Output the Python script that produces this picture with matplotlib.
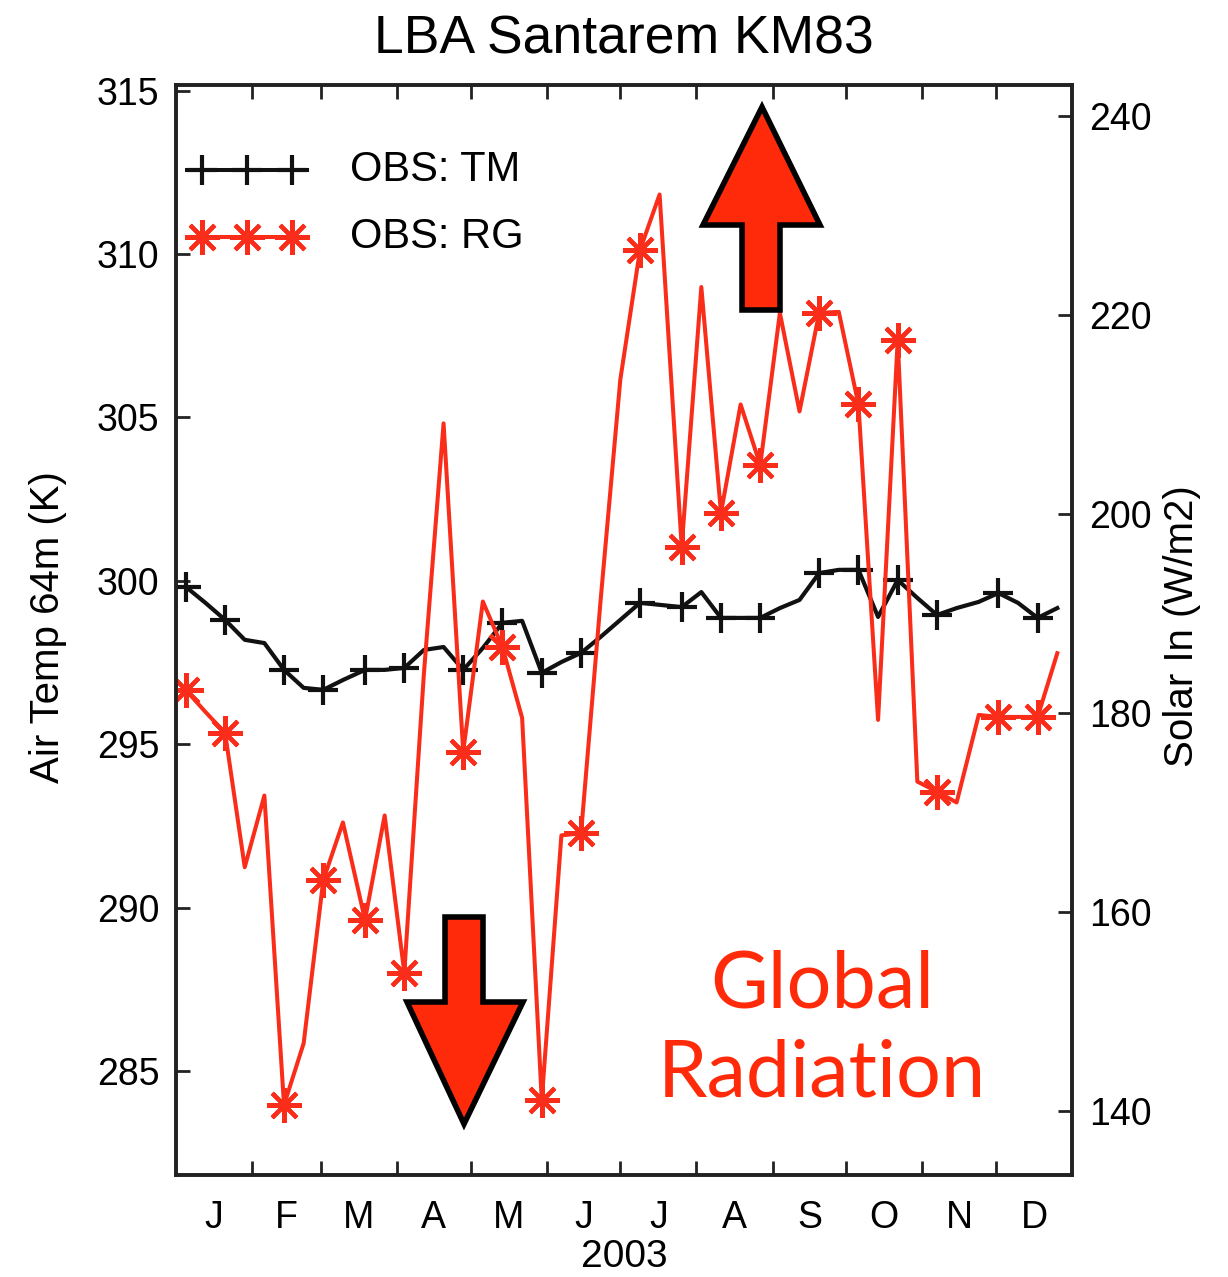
import numpy as np
import matplotlib
matplotlib.use('Agg')
import matplotlib.pyplot as plt
from matplotlib.patches import Polygon

plt.rcParams['font.family'] = ['Liberation Sans', 'DejaVu Sans']

# ---------------- data ----------------
title = "LBA Santarem KM83"
month_labels = ['J', 'F', 'M', 'A', 'M', 'J', 'J', 'A', 'S', 'O', 'N', 'D']
month_starts = [0, 31, 59, 90, 120, 151, 181, 212, 243, 273, 304, 334, 365]
year_label = "2003"
left_label = "Air Temp 64m (K)"
right_label = "Solar In (W/m2)"
legend_labels = ["OBS: TM", "OBS: RG"]
annotation = "Global\nRadiation"

# day of year of each sample
obs_day = [4, 12, 20, 28, 36, 44, 52, 60, 68, 77, 85, 93, 101, 109, 117,
           125, 133, 141, 149, 157, 165, 173, 181, 189, 197, 206, 214, 222,
           230, 238, 246, 254, 262, 270, 278, 286, 294, 302, 310, 318, 327,
           335, 343, 351, 359]

# air temperature at 64 m (K)
air_temp = [299.82, 299.33, 298.81, 298.20, 298.10, 297.28, 296.73, 296.67,
            296.97, 297.28, 297.28, 297.34, 297.89, 297.98, 297.28, 297.95,
            298.72, 298.78, 297.19, 297.52, 297.80, 298.29, 298.81, 299.33,
            299.27, 299.20, 299.66, 298.87, 298.87, 298.87, 299.17, 299.42,
            300.24, 300.34, 300.34, 298.90, 300.03, 299.48, 298.96, 299.17,
            299.36, 299.63, 299.33, 298.87, 299.17]

# incoming solar radiation (W/m2)
solar_in = [182.3, 180.1, 178.0, 164.5, 171.7, 140.6, 146.8, 163.2, 169.0,
            159.2, 169.7, 153.9, 184.0, 209.1, 176.1, 191.2, 186.6, 179.5,
            141.1, 167.7, 167.9, 191.4, 213.5, 226.5, 232.1, 196.7, 222.8,
            200.1, 211.0, 204.9, 220.2, 210.3, 220.2, 220.3, 211.0, 179.3,
            217.5, 173.1, 172.1, 171.0, 179.8, 179.6, 179.6, 179.6, 186.0]

marker_idx = [0, 2, 5, 7, 9, 11, 14, 16, 18, 20, 23, 25, 27, 29, 32, 34, 36,
              38, 41, 43]

left_ticks = [285, 290, 295, 300, 305, 310, 315]
right_ticks = [140, 160, 180, 200, 220, 240]

# ---------------- figure ----------------
W, H = 1228, 1277
fig = plt.figure(figsize=(W / 100, H / 100), dpi=100)
ax_l, ax_r, ax_b, ax_t = 176, 1072, 1175, 85
ax = fig.add_axes([ax_l / W, 1 - ax_b / H, (ax_r - ax_l) / W, (ax_b - ax_t) / H])
ax2 = ax.twinx()

RED = '#f92d1a'
BLACK = '#111111'
ASTER = (8, 2, 0)

ax.plot(obs_day, air_temp, color=BLACK, lw=3.0, marker='+', ms=22, mew=3.0,
        markevery=marker_idx, zorder=3)
ax2.plot(obs_day, solar_in, color=RED, lw=2.9, marker=ASTER, ms=25, mew=3.0,
         mec=RED, markevery=marker_idx, zorder=2)

ax.set_xlim(0, 365)
ax.set_ylim(281.83, 315.17)
ax2.set_ylim(133.57, 243.1)

# x ticks: month boundaries, labels at centres
ax.set_xticks(month_starts[1:-1])
ax.set_xticklabels([])
centres = [(a + b) / 2 for a, b in zip(month_starts[:-1], month_starts[1:])]
ax.set_xticks(centres, minor=True)
ax.set_xticklabels(month_labels, minor=True, fontsize=27)
ax.tick_params(axis='x', which='minor', length=0, pad=18)
ax.tick_params(axis='x', which='major', direction='in', length=10, width=2,
               top=True, bottom=True, color='#222222')
ax.set_xlabel(year_label, fontsize=28, labelpad=2)

ax.set_yticks(left_ticks)
ax.tick_params(axis='y', direction='in', length=10, width=2, labelsize=27,
               pad=12, left=True, right=False, color='#222222')
ax2.set_yticks(right_ticks)
ax2.tick_params(axis='y', direction='in', length=10, width=2, labelsize=27,
                pad=12, right=True, left=False, color='#222222')

for a in (ax, ax2):
    for s in a.spines.values():
        s.set_linewidth(2.6)
        s.set_color('#222222')

ax.set_ylabel(left_label, fontsize=29)
ax.yaxis.set_label_coords(-0.122, 0.503)
ax2.set_ylabel(right_label, fontsize=29, rotation=90)
ax2.yaxis.set_label_coords(1.1015, 0.504)

fig.text(624 / W, 1 - 40 / H, title, fontsize=38.5, ha='center', va='center')

# legend (drawn manually in axes fraction)
leg_x = [0.0123, 0.146]
leg_mx = [0.029, 0.079, 0.129]
for yy, col, mk, ms, lab in [(0.922, BLACK, '+', 22, legend_labels[0]),
                              (0.8606, RED, ASTER, 25, legend_labels[1])]:
    ax2.plot(leg_x, [yy, yy], color=col, lw=2.9, transform=ax2.transAxes,
             clip_on=False)
    ax2.plot(leg_mx, [yy] * 3, ls='none', marker=mk, ms=ms, mew=3.0,
             color=col, mec=col, transform=ax2.transAxes, clip_on=False)
    ax2.text(0.194, yy, lab, transform=ax2.transAxes, fontsize=30,
             va='center', ha='left')

# arrows (figure pixel coordinates)
def px(points):
    return [(x / W, 1 - y / H) for x, y in points]

up = [(762, 107), (820, 225), (780, 225), (780, 310), (742, 310), (742, 225),
      (703, 225)]
down = [(464, 1124), (523, 1002), (483, 1002), (483, 917), (445, 917),
        (445, 1002), (407, 1002)]
for pts in (up, down):
    fig.patches.append(Polygon(px(pts), closed=True, facecolor='#ff2a0a',
                               edgecolor='black', lw=4.0, joinstyle='miter',
                               transform=fig.transFigure, zorder=10))

fig.text(822 / W, 1 - 1030 / H, annotation, fontsize=57, color='#ff2a0a',
         ha='center', va='center', family=['Lato', 'DejaVu Sans'],
         linespacing=1.3)

fig.savefig('out.png', dpi=100)
